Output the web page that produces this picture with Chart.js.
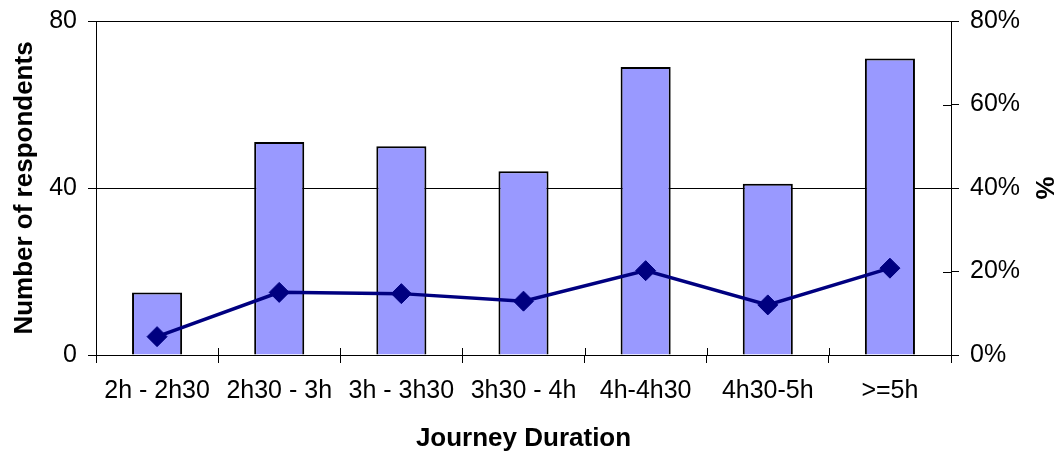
<!DOCTYPE html>
<html>
<head>
<meta charset="utf-8">
<script src="https://cdn.jsdelivr.net/npm/chart.js@4/dist/chart.umd.min.js"></script>
<style>
  html, body { margin: 0; padding: 0; background: #fff; }
  #wrap { width: 1059px; height: 454px; position: relative; }
</style>
</head>
<body>
<div id="wrap"><canvas id="c" width="1059" height="454"></canvas></div>
<script>
// Journey duration survey: respondents per duration band and share of total
const categories = ['2h - 2h30', '2h30 - 3h', '3h - 3h30', '3h30 - 4h', '4h-4h30', '4h30-5h', '>=5h'];
const respondents = [15, 51, 50, 44, 69, 41, 71];
const percentOfTotal = [4.4, 15.0, 14.7, 12.9, 20.2, 12.0, 20.8];
const leftTicks = [0, 40, 80];
const rightTicks = [0, 20, 40, 60, 80];

const FONT = '"Liberation Sans", Arial, Helvetica, sans-serif';

// Short tick marks that cross the axis line (inner half; Chart.js draws the outer half)
const crossTicks = {
  id: 'crossTicks',
  afterDraw(chart) {
    const ctx = chart.ctx;
    const x = chart.scales.x, y1 = chart.scales.y1;
    ctx.save();
    ctx.strokeStyle = '#000';
    ctx.lineWidth = 1;
    ctx.beginPath();
    // right axis: inward part
    rightTicks.forEach(v => {
      const py = Math.round(y1.getPixelForValue(v)) + 0.5;
      ctx.moveTo(y1.left - 8, py);
      ctx.lineTo(y1.left, py);
    });
    // category axis: inward part at band boundaries
    for (let i = 0; i <= categories.length; i++) {
      const px = Math.round(x.getPixelForValue(i - 0.5)) + 0.5;
      ctx.moveTo(px, x.top - 7);
      ctx.lineTo(px, x.top);
    }
    ctx.stroke();
    ctx.restore();
  }
};

function fixVertical(width) {
  return function (s) {
    s.width = width;
    s.paddingTop = 0;
    s.paddingBottom = 0;
  };
}

new Chart(document.getElementById('c'), {
  type: 'bar',
  data: {
    labels: categories,
    datasets: [
      {
        type: 'line',
        label: '%',
        data: percentOfTotal,
        yAxisID: 'y1',
        borderColor: '#000080',
        backgroundColor: '#000080',
        borderWidth: 3.5,
        pointStyle: 'rectRot',
        pointRadius: 10,
        pointBorderWidth: 1,
        pointBackgroundColor: '#000080',
        pointBorderColor: '#000080',
        tension: 0,
        order: 0
      },
      {
        type: 'bar',
        label: 'Number of respondents',
        data: respondents,
        yAxisID: 'y',
        backgroundColor: '#9999FF',
        borderColor: '#000',
        borderWidth: 2,
        categoryPercentage: 1.0,
        barPercentage: 0.41,
        order: 1
      }
    ]
  },
  options: {
    responsive: false,
    animation: false,
    devicePixelRatio: 1,
    layout: { padding: { top: 21, left: 0, right: 0, bottom: 0 } },
    plugins: { legend: { display: false }, tooltip: { enabled: false } },
    scales: {
      x: {
        grid: { display: true, drawOnChartArea: false, offset: true, color: '#000', tickLength: 8 },
        border: { display: true, color: '#000', width: 1 },
        ticks: { color: '#000', font: { family: FONT, size: 25 }, padding: 13, maxRotation: 0, autoSkip: false },
        title: { display: true, text: 'Journey Duration', color: '#000', font: { family: FONT, size: 26, weight: 'bold' }, padding: { top: 0, bottom: 0 } },
        afterFit(s) { s.height = 99; s.paddingLeft = 0; s.paddingRight = 0; }
      },
      y: {
        position: 'left',
        min: 0, max: 80,
        afterBuildTicks(s) { s.ticks = leftTicks.map(v => ({ value: v })); },
        grid: { color: '#000', lineWidth: 1, tickLength: 8 },
        border: { display: true, color: '#000', width: 1 },
        ticks: { color: '#000', font: { family: FONT, size: 25 }, padding: 11 },
        title: { display: true, text: 'Number of respondents', color: '#000', font: { family: FONT, size: 26, weight: 'bold' }, padding: { top: 9, bottom: 0 } },
        afterFit: fixVertical(96)
      },
      y1: {
        position: 'right',
        min: 0, max: 80,
        afterBuildTicks(s) { s.ticks = rightTicks.map(v => ({ value: v })); },
        grid: { drawOnChartArea: false, color: '#000', tickLength: 8 },
        border: { display: true, color: '#000', width: 1 },
        ticks: { color: '#000', font: { family: FONT, size: 25 }, padding: 11, callback: v => v + '%' },
        title: { display: true, text: '%', color: '#000', font: { family: FONT, size: 26, weight: 'bold' }, padding: { top: 0, bottom: 0 } },
        afterFit: fixVertical(108)
      }
    }
  },
  plugins: [crossTicks]
});
</script>
</body>
</html>
